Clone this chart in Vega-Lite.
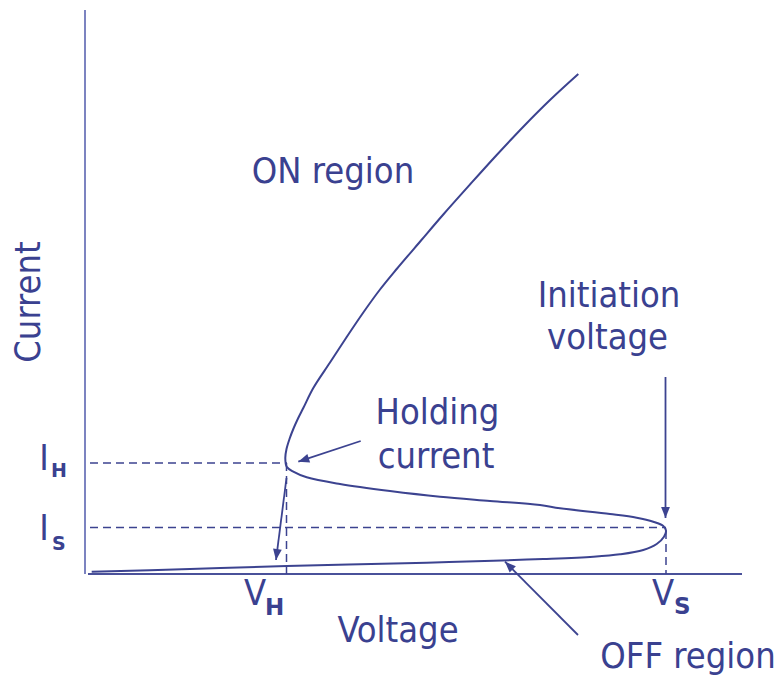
{
  "$schema": "https://vega.github.io/schema/vega-lite/v6.json",
  "width": 778,
  "height": 675,
  "padding": 0,
  "autosize": {"type": "fit", "contains": "padding"},
  "background": "white",
  "config": {"view": {"stroke": null}},
  "datasets": {
    "curve": [
      {"o": 1, "v": 493.3, "c": 500},
      {"o": 2, "v": 465, "c": 474},
      {"o": 3, "v": 438.3, "c": 447.3},
      {"o": 4, "v": 411.7, "c": 419},
      {"o": 5, "v": 385, "c": 389.5},
      {"o": 6, "v": 358.3, "c": 359.5},
      {"o": 7, "v": 336, "c": 333.5},
      {"o": 8, "v": 311.7, "c": 305},
      {"o": 9, "v": 295, "c": 284.5},
      {"o": 10, "v": 278.3, "c": 261.5},
      {"o": 11, "v": 261.7, "c": 237},
      {"o": 12, "v": 245, "c": 211.5},
      {"o": 13, "v": 228.3, "c": 186},
      {"o": 14, "v": 218.3, "c": 166},
      {"o": 15, "v": 213, "c": 155.5},
      {"o": 16, "v": 208.5, "c": 145.5},
      {"o": 17, "v": 204.5, "c": 135},
      {"o": 18, "v": 201.5, "c": 125},
      {"o": 19, "v": 200.3, "c": 116},
      {"o": 20, "v": 201.7, "c": 107.3},
      {"o": 21, "v": 208.3, "c": 102.3},
      {"o": 22, "v": 221.7, "c": 96.7},
      {"o": 23, "v": 255, "c": 90},
      {"o": 24, "v": 305, "c": 83},
      {"o": 25, "v": 355, "c": 77.3},
      {"o": 26, "v": 405, "c": 73.1},
      {"o": 27, "v": 455, "c": 69},
      {"o": 28, "v": 475, "c": 65.7},
      {"o": 29, "v": 525, "c": 60},
      {"o": 30, "v": 551.7, "c": 56.3},
      {"o": 31, "v": 568.3, "c": 52.3},
      {"o": 32, "v": 578.3, "c": 48},
      {"o": 33, "v": 581, "c": 43.3},
      {"o": 34, "v": 579, "c": 37.3},
      {"o": 35, "v": 571.7, "c": 30},
      {"o": 36, "v": 558.3, "c": 24},
      {"o": 37, "v": 535, "c": 19.7},
      {"o": 38, "v": 508.3, "c": 17.3},
      {"o": 39, "v": 458.3, "c": 15},
      {"o": 40, "v": 408.3, "c": 13.3},
      {"o": 41, "v": 341.7, "c": 11.3},
      {"o": 42, "v": 275, "c": 9.7},
      {"o": 43, "v": 201.7, "c": 8},
      {"o": 44, "v": 105, "c": 5},
      {"o": 45, "v": 6.7, "c": 2.3}
    ],
    "yaxis": [{"v": 0, "c": 0, "v2": 0, "c2": 564}],
    "xaxis": [{"v": 3, "c": 0, "v2": 657, "c2": 0}],
    "dashes": [
      {"v": 5, "c": 111, "v2": 202, "c2": 111},
      {"v": 201.5, "c": 111, "v2": 201.5, "c2": 0},
      {"v": 5, "c": 46.5, "v2": 581, "c2": 46.5},
      {"v": 581, "c": 43, "v2": 581, "c2": 0}
    ],
    "shafts": [
      {"v": 275.7, "c": 133, "v2": 213.3, "c2": 112.3},
      {"v": 201.5, "c": 96, "v2": 191, "c2": 14},
      {"v": 580.5, "c": 197, "v2": 580.5, "c2": 56},
      {"v": 493, "c": -61, "v2": 420, "c2": 12.3}
    ],
    "head1": [{"v": 213.3, "c": 112.3}],
    "head2": [{"v": 191, "c": 14}],
    "head3": [{"v": 580.5, "c": 56}],
    "head4": [{"v": 420, "c": 12.3}],
    "labels": [
      {"t": "ON region", "v": 248, "c": 391},
      {"t": "Holding", "v": 352.5, "c": 150},
      {"t": "current", "v": 351, "c": 106},
      {"t": "Initiation", "v": 524, "c": 267},
      {"t": "voltage", "v": 522.5, "c": 225},
      {"t": "Voltage", "v": 313, "c": -68},
      {"t": "OFF region", "v": 603, "c": -94},
      {"t": "I", "v": -41, "c": 104},
      {"t": "I", "v": -41, "c": 34},
      {"t": "V", "v": 170, "c": -31},
      {"t": "V", "v": 578, "c": -31}
    ],
    "subsI": [
      {"t": "H", "v": -34, "c": 97},
      {"t": "S", "v": -33, "c": 24}
    ],
    "subsV": [
      {"t": "H", "v": 180, "c": -41},
      {"t": "S", "v": 589, "c": -40}
    ],
    "ylabel": [{"t": "Current", "v": -56, "c": 272}]
  },
  "encoding": {
    "x": {"field": "v", "type": "quantitative", "scale": {"domain": [-85, 693], "nice": false, "zero": false}, "axis": null},
    "y": {"field": "c", "type": "quantitative", "scale": {"domain": [-101, 574], "nice": false, "zero": false}, "axis": null}
  },
  "layer": [
    {
      "data": {"name": "yaxis"},
      "mark": {"type": "rule", "color": "#7c83c0", "strokeWidth": 2},
      "encoding": {"x2": {"field": "v2"}, "y2": {"field": "c2"}}
    },
    {
      "data": {"name": "xaxis"},
      "mark": {"type": "rule", "color": "#4a519a", "strokeWidth": 2},
      "encoding": {"x2": {"field": "v2"}, "y2": {"field": "c2"}}
    },
    {
      "data": {"name": "dashes"},
      "mark": {"type": "rule", "color": "#3c4390", "strokeWidth": 1.5, "strokeDash": [8, 5]},
      "encoding": {"x2": {"field": "v2"}, "y2": {"field": "c2"}}
    },
    {
      "data": {"name": "shafts"},
      "mark": {"type": "rule", "color": "#3c4390", "strokeWidth": 1.8},
      "encoding": {"x2": {"field": "v2"}, "y2": {"field": "c2"}}
    },
    {
      "data": {"name": "curve"},
      "mark": {"type": "line", "color": "#3c4390", "strokeWidth": 2, "interpolate": "catmull-rom"},
      "encoding": {"order": {"field": "o", "type": "quantitative"}}
    },
    {
      "data": {"name": "head1"},
      "mark": {"type": "point", "shape": "M0,0L0.8,2L-0.8,2Z", "size": 121, "filled": true, "opacity": 1, "color": "#3c4390", "strokeWidth": 0, "angle": 251.6}
    },
    {
      "data": {"name": "head2"},
      "mark": {"type": "point", "shape": "M0,0L0.8,2L-0.8,2Z", "size": 121, "filled": true, "opacity": 1, "color": "#3c4390", "strokeWidth": 0, "angle": 187.3}
    },
    {
      "data": {"name": "head3"},
      "mark": {"type": "point", "shape": "M0,0L0.8,2L-0.8,2Z", "size": 121, "filled": true, "opacity": 1, "color": "#3c4390", "strokeWidth": 0, "angle": 180}
    },
    {
      "data": {"name": "head4"},
      "mark": {"type": "point", "shape": "M0,0L0.8,2L-0.8,2Z", "size": 121, "filled": true, "opacity": 1, "color": "#3c4390", "strokeWidth": 0, "angle": 315}
    },
    {
      "data": {"name": "labels"},
      "mark": {"type": "text", "font": "DejaVu Sans Condensed", "fontSize": 36, "color": "#3a4190", "align": "center", "baseline": "alphabetic"},
      "encoding": {"text": {"field": "t"}}
    },
    {
      "data": {"name": "subsI"},
      "mark": {"type": "text", "font": "DejaVu Sans", "fontSize": 19, "fontWeight": "bold", "color": "#3a4190", "align": "left", "baseline": "alphabetic"},
      "encoding": {"text": {"field": "t"}}
    },
    {
      "data": {"name": "subsV"},
      "mark": {"type": "text", "font": "DejaVu Sans", "fontSize": 23, "fontWeight": "bold", "color": "#3a4190", "align": "left", "baseline": "alphabetic"},
      "encoding": {"text": {"field": "t"}}
    },
    {
      "data": {"name": "ylabel"},
      "mark": {"type": "text", "font": "DejaVu Sans Condensed", "fontSize": 36, "color": "#3a4190", "align": "center", "baseline": "middle", "angle": 270},
      "encoding": {"text": {"field": "t"}}
    }
  ]
}
